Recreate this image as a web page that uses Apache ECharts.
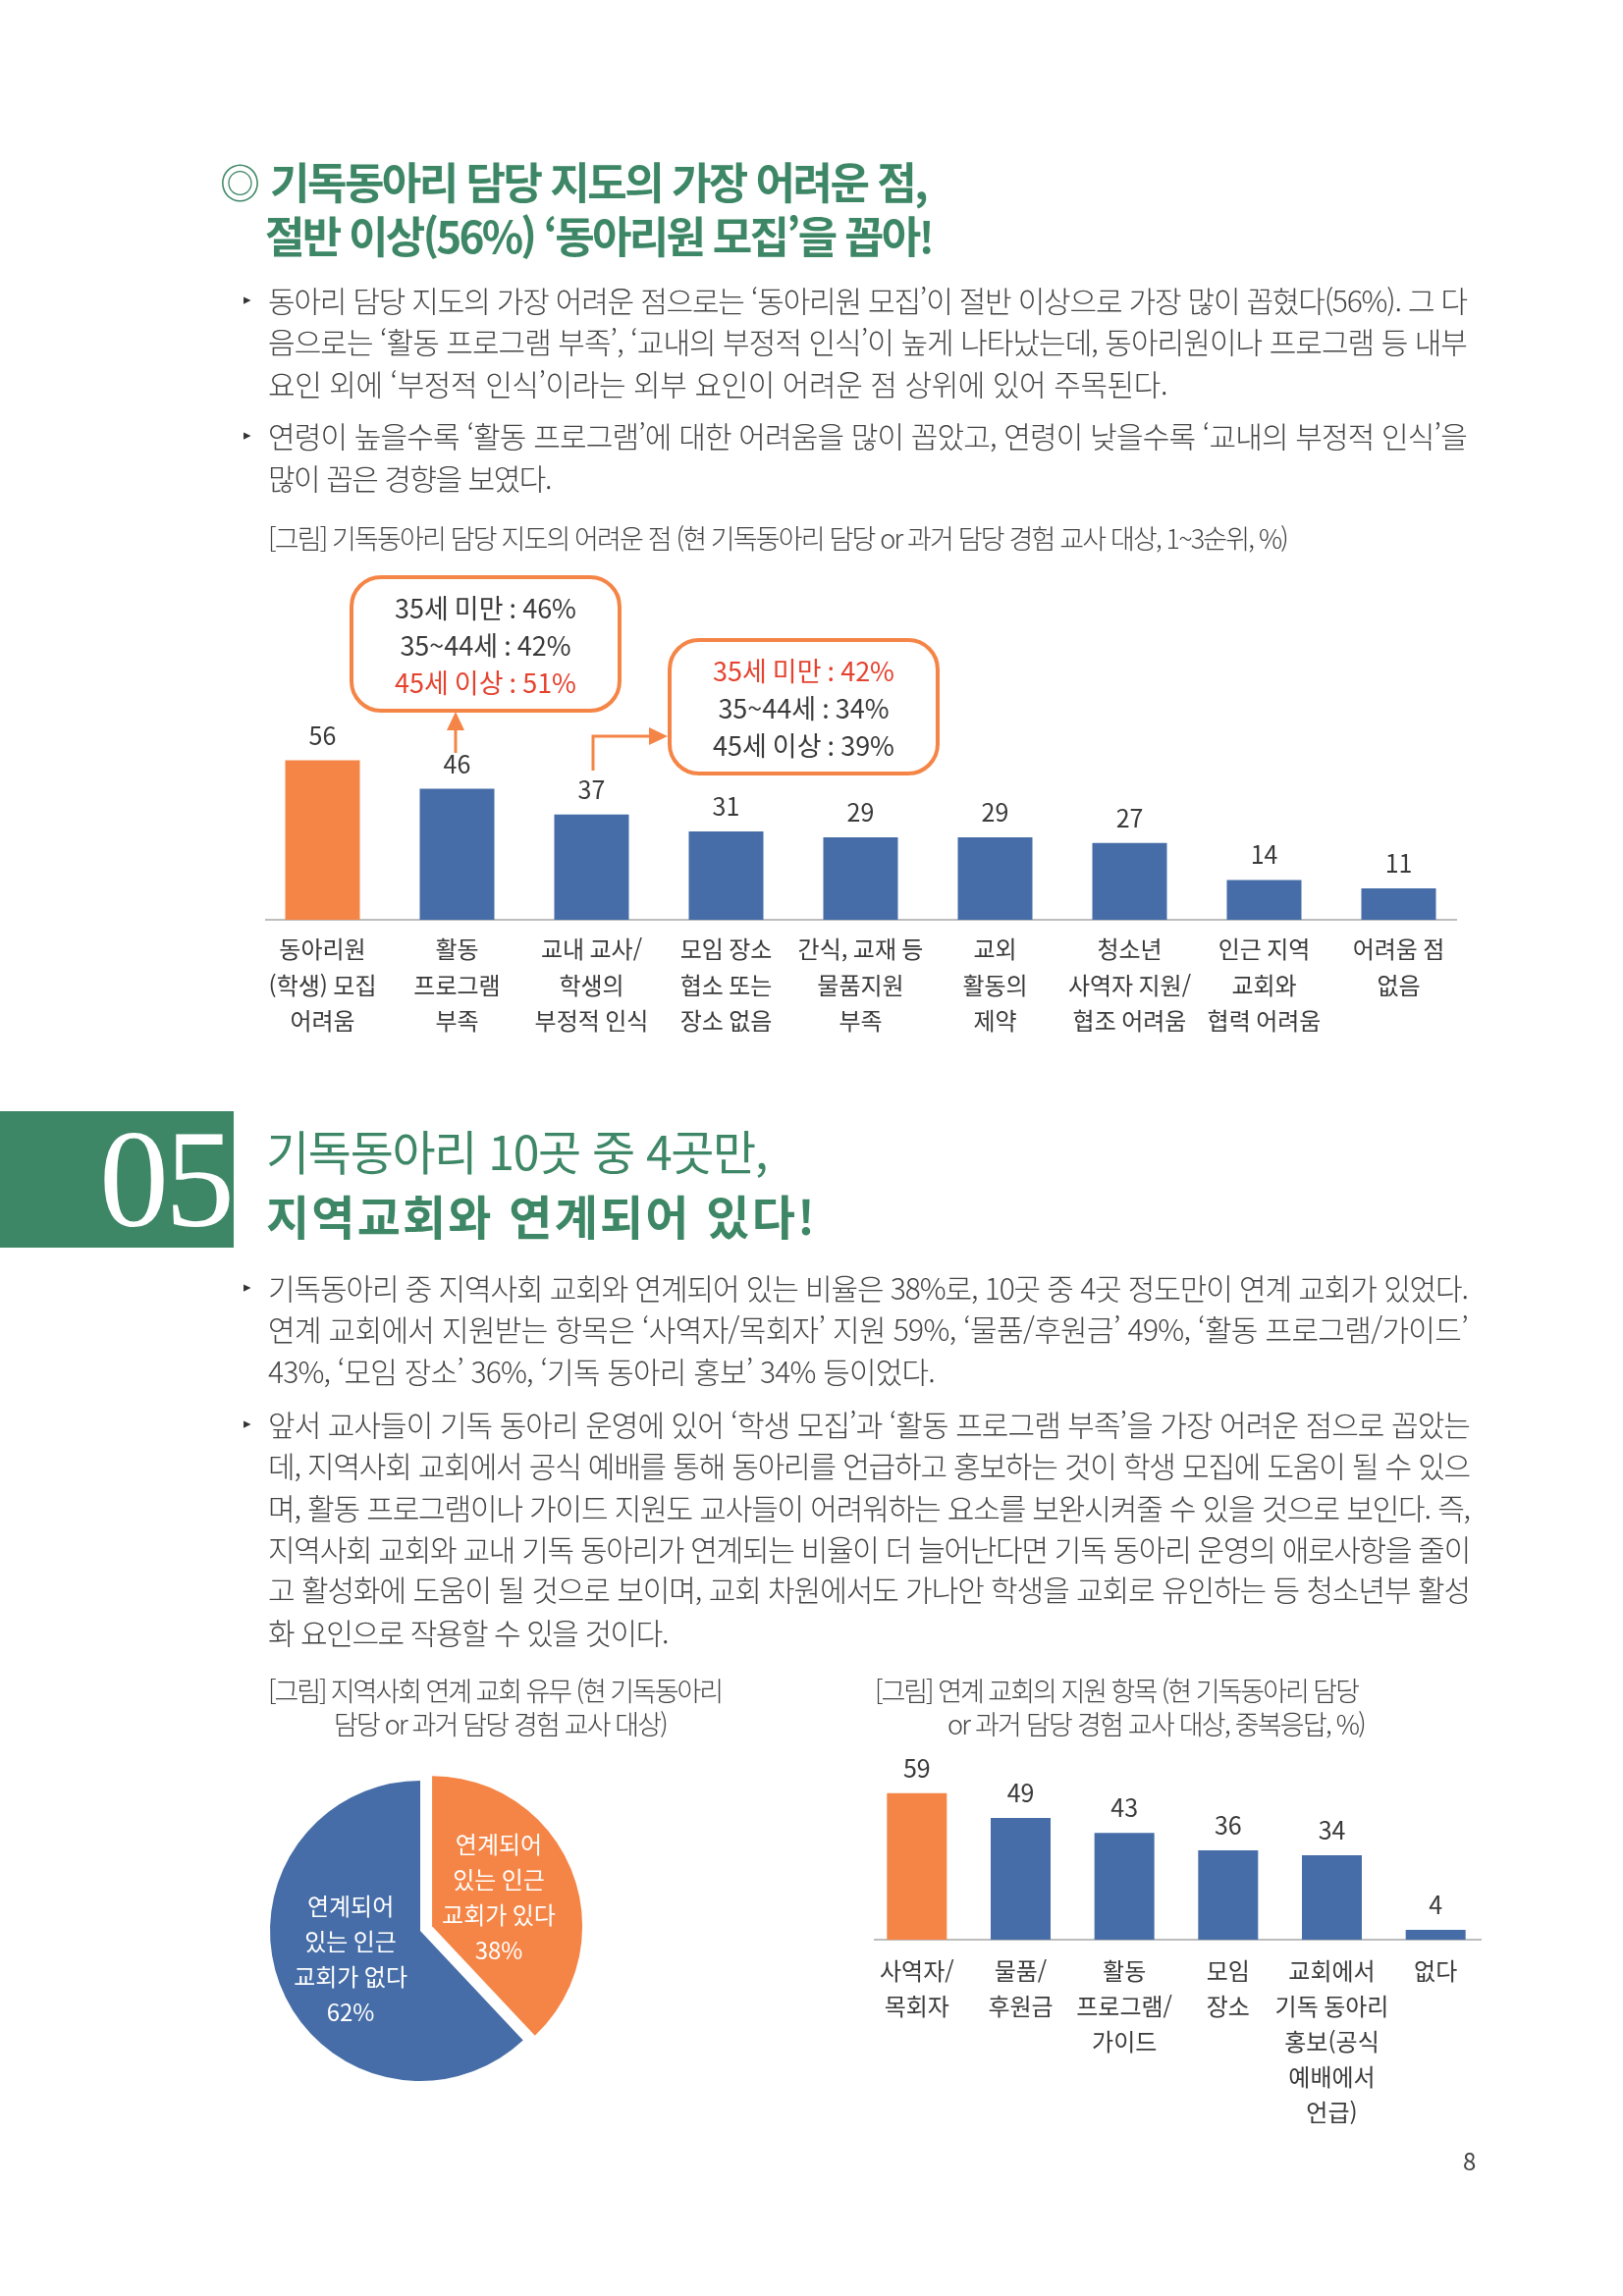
<!DOCTYPE html>
<html lang="ko">
<head>
<meta charset="utf-8">
<title>기독동아리</title>
<script src="https://cdn.jsdelivr.net/npm/echarts@6/dist/echarts.min.js"></script>
<style>
  html, body { margin: 0; background: #fff; }
  #page { position: relative; width: 1653px; height: 2339px; overflow: hidden;
    font-family: "Noto Sans CJK KR", sans-serif; color: #444; }
  #chart { position: absolute; left: 0; top: 0; width: 1653px; height: 2339px; }
  .t { position: absolute; height: 50px; line-height: 50px; white-space: pre; }
  .body { font-size: 30px; font-weight: 300; }
  .cap { font-size: 27px; font-weight: 300; }
  .head { font-size: 44px; font-weight: 700; color: #3e8766; }
  .headLight { font-size: 48px; font-weight: 400; color: #3e8766; }
  .bullet { position: absolute; left: 248px; font-size: 15px; line-height: 20px; color: #333; }
  #band { position: absolute; left: 0; top: 1132px; width: 238px; height: 139px; background: #3e8766; }
  #num { position: absolute; left: 101px; top: 1112px; line-height: 178px; font-size: 142px;
    font-family: "Liberation Serif", serif; color: #fff; letter-spacing: -4px; }
</style>
</head>
<body>
<div id="page">
  <div id="chart"></div>

  <div class="t" style="left:224px;top:159px;font-size:41px;color:#3e8766">◎</div>
  <div class="t head" data-w="668" style="left:275px;top:159px">기독동아리 담당 지도의 가장 어려운 점,</div>
  <div class="t head" data-w="679" style="left:270px;top:214px">절반 이상(56%) ‘동아리원 모집’을 꼽아!</div>

  <div class="bullet" style="top:294px">▸</div>
  <div class="t body" data-w="1221" style="left:273px;top:280px">동아리 담당 지도의 가장 어려운 점으로는 ‘동아리원 모집’이 절반 이상으로 가장 많이 꼽혔다(56%). 그 다</div>
  <div class="t body" data-w="1221" style="left:273px;top:322px">음으로는 ‘활동 프로그램 부족’, ‘교내의 부정적 인식’이 높게 나타났는데, 동아리원이나 프로그램 등 내부</div>
  <div class="t body" data-w="916" style="left:273px;top:365px">요인 외에 ‘부정적 인식’이라는 외부 요인이 어려운 점 상위에 있어 주목된다.</div>
  <div class="bullet" style="top:432px">▸</div>
  <div class="t body" data-w="1221" style="left:273px;top:418px">연령이 높을수록 ‘활동 프로그램’에 대한 어려움을 많이 꼽았고, 연령이 낮을수록 ‘교내의 부정적 인식’을</div>
  <div class="t body" data-w="288" style="left:273px;top:461px">많이 꼽은 경향을 보였다.</div>
  <div class="t cap" data-w="1038" style="left:273px;top:523px">[그림] 기독동아리 담당 지도의 어려운 점 (현 기독동아리 담당 or 과거 담당 경험 교사 대상, 1~3순위, %)</div>

  <div id="band"></div>
  <div id="num">05</div>
  <div class="t headLight" data-w="510" style="left:271px;top:1146px">기독동아리 10곳 중 4곳만,</div>
  <div class="t head" style="font-size:48px;left:271px;top:1212px" data-w="561">지역교회와 연계되어 있다!</div>

  <div class="bullet" style="top:1300px">▸</div>
  <div class="t body" data-w="1222" style="left:273px;top:1286px">기독동아리 중 지역사회 교회와 연계되어 있는 비율은 38%로, 10곳 중 4곳 정도만이 연계 교회가 있었다.</div>
  <div class="t body" data-w="1222" style="left:273px;top:1328px">연계 교회에서 지원받는 항목은 ‘사역자/목회자’ 지원 59%, ‘물품/후원금’ 49%, ‘활동 프로그램/가이드’</div>
  <div class="t body" data-w="679" style="left:273px;top:1371px">43%, ‘모임 장소’ 36%, ‘기독 동아리 홍보’ 34% 등이었다.</div>
  <div class="bullet" style="top:1439px">▸</div>
  <div class="t body" data-w="1224" style="left:273px;top:1425px">앞서 교사들이 기독 동아리 운영에 있어 ‘학생 모집’과 ‘활동 프로그램 부족’을 가장 어려운 점으로 꼽았는</div>
  <div class="t body" data-w="1224" style="left:273px;top:1467px">데, 지역사회 교회에서 공식 예배를 통해 동아리를 언급하고 홍보하는 것이 학생 모집에 도움이 될 수 있으</div>
  <div class="t body" data-w="1224" style="left:273px;top:1510px">며, 활동 프로그램이나 가이드 지원도 교사들이 어려워하는 요소를 보완시켜줄 수 있을 것으로 보인다. 즉,</div>
  <div class="t body" data-w="1224" style="left:273px;top:1552px">지역사회 교회와 교내 기독 동아리가 연계되는 비율이 더 늘어난다면 기독 동아리 운영의 애로사항을 줄이</div>
  <div class="t body" data-w="1224" style="left:273px;top:1593px">고 활성화에 도움이 될 것으로 보이며, 교회 차원에서도 가나안 학생을 교회로 유인하는 등 청소년부 활성</div>
  <div class="t body" data-w="407" style="left:273px;top:1637px">화 요인으로 작용할 수 있을 것이다.</div>

  <div class="t cap" data-w="462" style="left:273px;top:1697px">[그림] 지역사회 연계 교회 유무 (현 기독동아리</div>
  <div class="t cap" data-w="339" style="left:340px;top:1731px">담당 or 과거 담당 경험 교사 대상)</div>
  <div class="t cap" data-w="492" style="left:891px;top:1697px">[그림] 연계 교회의 지원 항목 (현 기독동아리 담당</div>
  <div class="t cap" data-w="425" style="left:965px;top:1731px">or 과거 담당 경험 교사 대상, 중복응답, %)</div>

  <div class="t" style="left:1490px;top:2176px;font-size:24px">8</div>
</div>

<script>
// squeeze each text line to the width it has in the page
document.querySelectorAll('.t[data-w]').forEach((el) => {
  const target = +el.dataset.w;
  const n = el.textContent.length;
  const natural = el.getBoundingClientRect().width;
  el.style.letterSpacing = ((target - natural) / n).toFixed(3) + 'px';
});

const FONT = '"Noto Sans CJK KR", sans-serif';
const ORANGE = '#f58546';
const BLUE = '#466da7';
const TEXT = '#3a3a3a';
const RED = '#e5432f';

// ─── Data ────────────────────────────────────────────────────
const hardCategories = [
  '동아리원\n(학생) 모집\n어려움', '활동\n프로그램\n부족', '교내 교사/\n학생의\n부정적 인식',
  '모임 장소\n협소 또는\n장소 없음', '간식, 교재 등\n물품지원\n부족', '교외\n활동의\n제약',
  '청소년\n사역자 지원/\n협조 어려움', '인근 지역\n교회와\n협력 어려움', '어려움 점\n없음',
];
const hardValues = [56, 46, 37, 31, 29, 29, 27, 14, 11];

const activityAges = ['35세 미만 : 46%', '35~44세 : 42%', '45세 이상 : 51%'];
const perceptionAges = ['35세 미만 : 42%', '35~44세 : 34%', '45세 이상 : 39%'];

const linkedNames = ['연계되어\n있는 인근\n교회가 있다', '연계되어\n있는 인근\n교회가 없다'];
const linkedValues = [38, 62];

const supportCategories = [
  '사역자/\n목회자', '물품/\n후원금', '활동\n프로그램/\n가이드', '모임\n장소',
  '교회에서\n기독 동아리\n홍보(공식\n예배에서\n언급)', '없다',
];
const supportValues = [59, 49, 43, 36, 34, 4];

// ─── Helpers ─────────────────────────────────────────────────
function categoryAxis(gridIndex, data, margin, lineHeight) {
  return {
    type: 'category', gridIndex, data,
    axisLine: { show: false },
    axisTick: { show: false },
    axisLabel: { interval: 0, margin, lineHeight, fontSize: 24, fontFamily: FONT, color: TEXT },
  };
}

function valueAxis(gridIndex) {
  return { type: 'value', gridIndex, min: 0, max: 100, show: false };
}

function barSeries(index, data, barWidth) {
  return {
    type: 'bar', xAxisIndex: index, yAxisIndex: index, data, barWidth,
    itemStyle: { color: (p) => (p.dataIndex === 0 ? ORANGE : BLUE) },
    label: { show: true, position: 'top', distance: 13, fontSize: 25, fontFamily: FONT, color: TEXT },
  };
}

function baseline(x1, x2, y) {
  return { type: 'line', shape: { x1, y1: y, x2, y2: y }, style: { stroke: '#bdbdbd', lineWidth: 2 } };
}

function callout(x, y, w, h, lines, redIndex) {
  const cx = x + w / 2;
  const items = [{
    type: 'rect', shape: { x, y, width: w, height: h, r: 30 },
    style: { fill: '#fff', stroke: ORANGE, lineWidth: 4 },
  }];
  lines.forEach((text, i) => {
    items.push({
      type: 'text',
      style: {
        text, x: cx, y: y + h / 2 + 2 + (i - 1) * 38, textAlign: 'center', textVerticalAlign: 'middle',
        font: '27px ' + FONT, fill: i === redIndex ? RED : TEXT,
      },
    });
  });
  return items;
}

function arrowHead(points) {
  return { type: 'polygon', shape: { points }, style: { fill: ORANGE } };
}

// ─── Chart: three plots sharing the page canvas ──────────────
const chart = echarts.init(document.getElementById('chart'), null, { renderer: 'canvas' });

chart.setOption({
  animation: false,
  textStyle: { fontFamily: FONT },
  grid: [
    { left: 260, top: 647, width: 1233, height: 290 },
    { left: 881, top: 1723, width: 634, height: 253 },
  ],
  xAxis: [categoryAxis(0, hardCategories, 12, 36.5), categoryAxis(1, supportCategories, 14, 36)],
  yAxis: [valueAxis(0), valueAxis(1)],
  series: [
    barSeries(0, hardValues, 76),
    barSeries(1, supportValues, 61),
    {
      type: 'pie',
      center: [428, 1967],
      radius: 153,
      startAngle: 90,
      selectedMode: 'single',
      selectedOffset: 13,
      silent: true,
      data: linkedValues.map((value, i) => ({
        value, name: linkedNames[i], selected: i === 0,
        itemStyle: { color: i === 0 ? ORANGE : BLUE },
        // nudge the two inside labels, pie places them at the mid radius
        label: { padding: i === 0 ? [0, 12, 0, 0] : [0, 0, 6, 6] },
      })),
      label: {
        position: 'inside', formatter: '{b}\n{c}%', color: '#fff',
        fontSize: 24, lineHeight: 36, fontFamily: FONT,
      },
      labelLine: { show: false },
    },
  ],
  graphic: {
    elements: [
      baseline(270, 1484, 937),
      baseline(890, 1509, 1976),
      ...callout(358, 588, 273, 136, activityAges, 2),
      ...callout(682, 652, 273, 136, perceptionAges, 0),
      { type: 'line', shape: { x1: 464, y1: 767, x2: 464, y2: 742 }, style: { stroke: ORANGE, lineWidth: 3 } },
      arrowHead([[464, 725], [455, 744], [473, 744]]),
      { type: 'polyline', shape: { points: [[604, 785], [604, 750], [664, 750]] }, style: { stroke: ORANGE, lineWidth: 3, fill: null } },
      arrowHead([[680, 750], [661, 741], [661, 759]]),
    ],
  },
});
</script>
</body>
</html>
